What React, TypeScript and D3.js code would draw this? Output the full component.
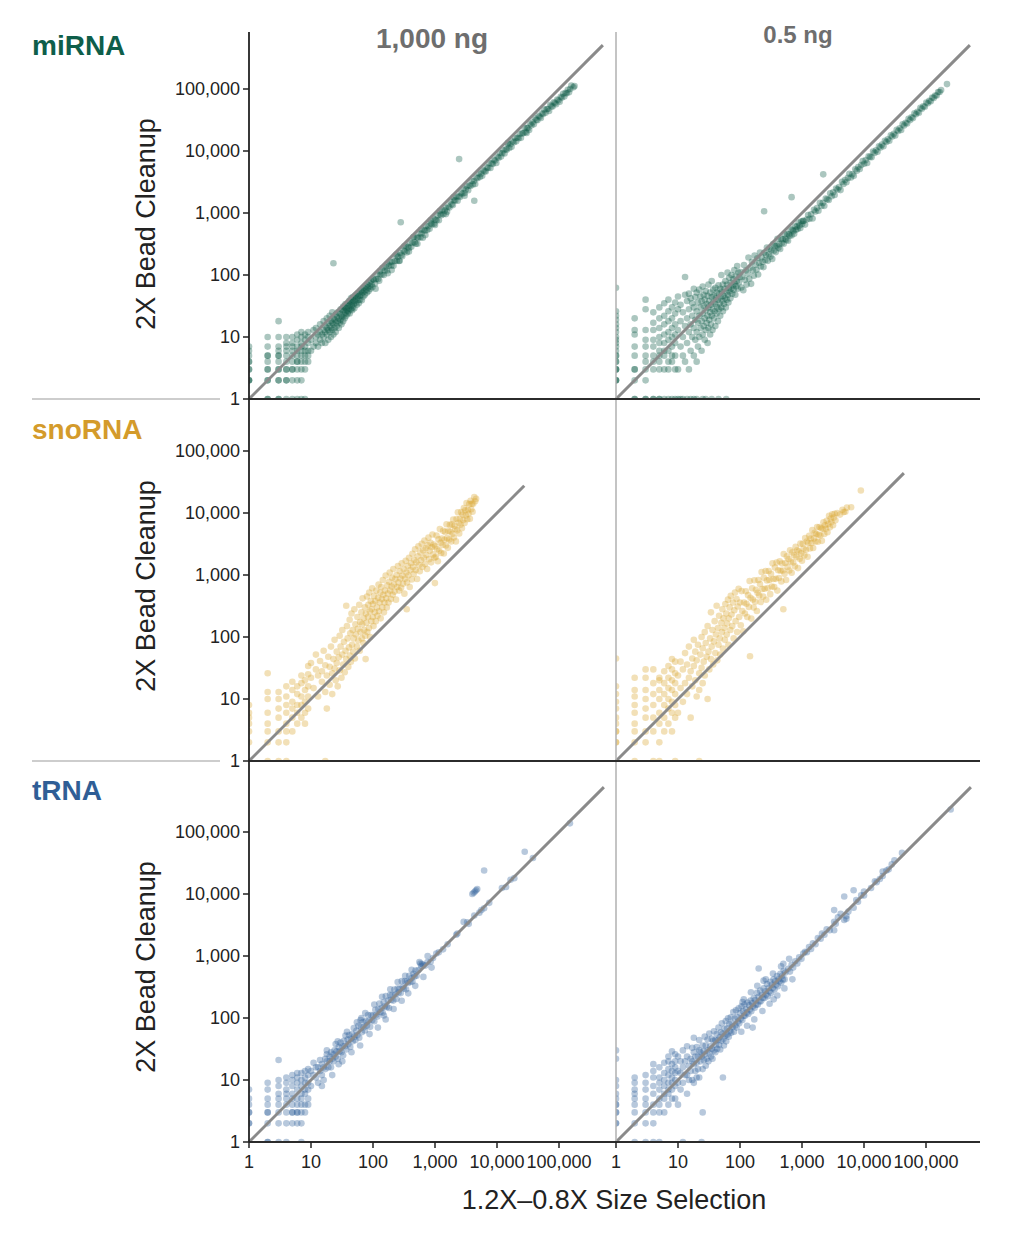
import React from "react";
import * as d3 from "d3";

// ---- data ----
// *_grid: low integer counts, [x, y1, y2, ...]; *_scatter: [x, y] pairs
// x = 1.2X-0.8X Size Selection count, y = 2X Bead Cleanup count

const miRNA_1000ng_grid = [
  [1, 1, 2, 2, 2, 3, 3, 4, 4, 5, 6, 7],
  [2, 1, 1, 2, 2, 3, 3, 4, 5, 5, 7, 10],
  [3, 1, 1, 2, 2, 3, 3, 4, 5, 5, 6, 7, 10, 18],
  [4, 1, 2, 2, 3, 3, 4, 5, 6, 7, 8, 10],
  [5, 1, 2, 3, 3, 4, 5, 6, 7, 8, 10],
  [6, 1, 2, 3, 4, 4, 5, 6, 7, 9, 11],
  [7, 1, 2, 3, 4, 5, 6, 7, 8, 10, 12],
  [8, 1, 3, 4, 5, 6, 7, 9, 11],
  [9, 4, 5, 6, 8, 10, 12],
];
const miRNA_1000ng_scatter = [
  [10,6],[10,9],[11,13],[11,7],[12,8],[12,10],[12,14],[13,7],[13,11],[14,9],[14,12],[14,16],[15,8],[15,11],
  [16,10],[16,13],[16,18],[17,8],[17,12],[17,15],[18,11],[18,14],[18,20],[19,9],[19,13],[19,17],[20,12],
  [20,15],[20,22],[21,10],[21,14],[21,18],[22,13],[22,17],[22,25],[23,11],[23,16],[23,20],[23,155],[24,14],
  [24,19],[25,12],[25,17],[25,23],[26,15],[26,21],[27,18],[27,25],[28,14],[28,20],[29,17],[29,24],[30,19],
  [30,28],[31,16],[31,22],[32,21],[32,27],[33,18],[33,31],[34,23],[34,27],[35,20],[35,30],[36,25],[36,34],
  [37,22],[37,29],[38,27],[39,31],[39,24],[40,26],[40,35],[41,29],[41,38],[42,24],[42,33],[43,37],[44,28],
  [44,42],[45,32],[46,36],[46,27],[47,30],[47,44],[48,39],[49,34],[50,44],[50,29],[51,38],[52,47],[53,36],
  [54,42],[55,33],[56,50],[57,45],[58,40],[59,35],[60,52],[61,46],[62,40],[64,55],[65,48],[66,39],[67,58],
  [68,52],[70,45],[71,62],[73,55],[74,48],[76,66],[78,58],[80,52],[81,70],[83,63],[85,55],[87,76],[89,66],
  [91,60],[93,80],[95,70],[98,64],[100,86],
  [103,84],[108,73],[110,60],[112,86],[117,103],[121,86],[126,81],[130,115],[131,103],[138,101],[142,129],
  [149,100],[155,118],[160,134],[168,118],[170,150],[173,107],[181,141],[190,163],[197,142],[200,120],
  [205,164],[214,141],[224,168],[231,206],[240,215],[242,169],[253,197],[262,168],[270,170],[275,226],
  [280,710],[287,210],[296,201],[310,248],[320,290],[324,240],[338,294],[350,231],[366,282],[380,240],
  [381,271],[399,331],[415,286],[433,329],[450,410],[452,407],[470,338],[491,319],[512,404],[520,320],
  [534,395],[560,470],[582,407],[600,540],[607,467],[635,400],[662,536],[690,518],[700,440],[722,621],
  [751,533],[785,612],[818,556],[850,760],[856,685],[892,660],[932,820],[970,669],[1000,640],[1015,782],
  [1060,763],[1105,917],[1155,762],[1200,1080],[1205,952],[1260,920],[1315,1118],[1372,960],[1435,1091],
  [1497,1213],[1500,960],[1565,1049],[1633,1274],[1706,1228],[1782,1533],[1862,1378],[1945,1342],
  [2000,1800],[2031,1604],[2122,1592],[2216,1839],[2315,1574],[2418,1862],[2450,7400],[2526,1819],
  [2638,2110],[2756,2039],[2878,2504],[3000,1900],[3006,2104],[3140,2386],[3280,2690],[3426,2330],
  [3578,2791],[3738,2729],[3904,3279],[4078,2895],[4259,3279],[4300,1580],[4449,2936],[4647,3718],
  [4854,3641],[5070,4360],[5296,3813],[5532,4315],[5778,3987],[6035,4949],[6304,4728],[6585,4675],
  [6878,5434],[7184,5316],[7504,6378],[7838,5330],[8187,6304],[8552,6157],[8933,7236],[9331,6998],
  [9746,6432],[10180,8042],[10634,7763],[11107,9330],[11602,8121],[12118,9210],[12658,10253],
  [13221,9122],[13810,10634],[14425,10530],[15000,13500],[15067,12958],[15738,11174],[16439,12822],
  [17170,11676],[17935,14348],[18733,13862],[19567,16241],[20438,14307],[21348,16438],[22298,16055],
  [23291,18866],[24328,16300],[25411,19312],[26542,19376],[27724,23565],[28958,20271],[30000,19500],
  [30247,23593],[31594,23380],[33000,21780],[34470,27576],[36004,25923],[37607,28957],[39281,27104],
  [41030,33645],[42857,31714],[44764,31335],[46757,36938],[48839,35652],[51013,34179],[53284,40496],
  [55656,39516],[58134,46507],[60722,41291],[63425,47569],[66249,47699],[69198,44287],[72279,55655],
  [75496,52847],[78857,52046],[82368,60952],[86035,59364],[89865,56615],[93865,67583],[98044,65689],
  [102408,62469],[106967,74877],[111729,72624],[116703,84026],[121898,75577],[127325,86581],
  [132993,85116],[138913,97239],[145097,88509],[151556,100027],[158303,113978],[171153,107000],
  [177898,112000],
];

const miRNA_05ng_grid = [
  [1, 1, 2, 2, 2, 3, 3, 3, 4, 4, 5, 5, 6, 7, 8, 9, 10, 12, 14, 16, 19, 22, 26, 62],
  [2, 1, 1, 2, 3, 3, 5, 7, 11, 13, 20],
  [3, 1, 1, 2, 3, 4, 5, 7, 9, 13, 28, 40],
  [4, 1, 1, 3, 4, 5, 7, 9, 13, 17, 25],
  [5, 1, 1, 3, 4, 5, 6, 8, 10, 14, 20, 30],
  [6, 1, 3, 5, 6, 8, 11, 16, 22, 35],
  [7, 1, 3, 4, 6, 9, 12, 18, 26, 40],
  [8, 1, 4, 5, 7, 10, 14, 20, 30],
  [9, 1, 3, 5, 8, 11, 16, 24, 36],
];
const miRNA_05ng_scatter = [
  [10,1],[11,1],[12,1],[14,1],[16,1],[18,1],[20,1],[25,1],[28,1],[35,1],[45,1],[60,1],
  [10,3],[10,13],[10,28],[10,45],[11,7],[11,18],[11,33],[12,5],[12,10],[12,25],[13,4],[13,15],[13,48],
  [13,93],[14,8],[14,20],[14,38],[15,3],[15,12],[15,28],[15,50],[16,6],[16,16],[16,42],[17,10],[17,22],
  [17,35],[18,5],[18,14],[18,30],[18,60],[19,9],[19,19],[19,44],[20,4],[20,12],[20,26],[20,52],[21,7],
  [21,17],[21,36],[22,10],[22,22],[22,58],[23,14],[23,30],[23,45],[24,6],[24,18],[24,38],[25,11],[25,24],
  [25,65],[26,15],[26,32],[26,48],[27,9],[27,20],[27,40],[28,13],[28,27],[28,55],[29,17],[29,34],[30,8],
  [30,22],[30,46],[31,14],[31,30],[31,70],[32,19],[32,38],[33,11],[33,25],[33,52],[34,16],[34,33],[35,22],
  [35,44],[35,80],[36,13],[36,28],[37,36],[37,58],[38,20],[38,46],[39,26],[40,15],[40,34],[40,62],[41,42],
  [42,24],[42,52],[43,30],[44,18],[44,40],[45,68],[46,28],[46,50],[47,35],[48,22],[48,60],[49,44],[50,30],
  [50,100],[51,54],[52,38],[53,26],[53,70],[54,46],[55,34],[56,60],[57,42],[58,80],[59,30],[60,52],[61,40],
  [62,70],[63,110],[64,48],[65,36],[66,62],[67,90],[68,54],[70,42],[71,75],[72,60],[73,100],[75,50],[76,68],
  [78,85],[79,58],[81,120],[82,72],[84,48],[85,95],[87,66],[89,80],[90,140],[92,60],[94,110],[96,76],
  [98,92],
  [102,112],[105,63],[109,93],[113,57],[116,145],[120,84],[124,118],[128,70],[133,106],[137,192],[141,87],
  [146,131],[151,72],[156,164],[161,119],[167,97],[172,206],[178,146],[184,121],[190,186],[196,102],
  [203,156],[210,231],[217,137],[224,193],[231,164],[239,134],[245,1070],[247,230],[255,173],[263,210],
  [272,277],[281,169],[290,215],[300,264],[310,198],[320,250],[331,182],[342,315],[353,247],[365,296],
  [377,234],[389,296],[402,382],[416,275],[429,313],[444,262],[458,385],[474,327],[489,377],[506,319],
  [522,459],[540,383],[558,368],[576,461],[595,357],[615,455],[635,432],[656,544],[678,434],[680,1800],
  [700,532],[724,507],[748,464],[772,610],[798,535],[825,602],[852,554],[880,704],[910,628],[940,573],
  [971,728],[1003,662],[1036,746],
  [1060,742],[1120,650],[1190,785],[1255,929],[1320,805],[1400,952],[1480,814],[1560,1123],[1650,1056],
  [1745,1204],[1840,1086],[1945,1459],[2055,1295],[2170,1454],[2200,4200],[2290,1305],[2420,1718],
  [2555,1661],[2700,1620],[2850,2081],[3010,1866],[3180,2162],[3360,1949],[3550,2485],[3750,2400],
  [3960,2614],[4180,2341],[4420,3182],[4670,2942],[4930,3402],[5210,3126],[5500,3685],[5810,4299],
  [6140,3745],[6490,4219],[6850,3973],[7240,5068],[7650,4820],[8080,5494],[8540,5124],[9020,5953],
  [9530,6862],[10070,6243],[10640,7129],[11240,6407],[11870,8190],[12540,8026],[13250,7950],
  [14000,9800],[14790,9318],[15620,10309],[16500,9735],[17430,11852],[18420,11420],[19460,12649],
  [20560,11925],[21720,14552],[22950,14000],[24240,15514],[25610,14598],[27060,17860],[28590,17154],
  [30200,19026],[31900,17864],[33710,21912],[35610,21010],[37620,23324],[39740,21857],[41990,26874],
  [44360,25729],[46870,28591],[49520,27731],[52310,32955],[55270,31504],[58390,35034],[61690,33930],
  [65170,40405],[68850,39245],[72740,42917],[76850,41499],[81190,49526],[85780,48037],[90620,52560],
  [95740,51700],[101150,60690],[106860,58773],[112900,64353],[119280,63218],[126020,73092],
  [133140,71896],[140660,78770],[148610,78763],[157000,89490],[165870,89570],[175240,96382],
  [218000,120000],
];

const snoRNA_1000ng_grid = [
  [1, 2, 3, 4, 5, 6, 8],
  [2, 1, 2, 3, 4, 6, 10, 13, 26],
  [3, 1, 2, 3, 5, 7, 10, 13],
  [4, 1, 2, 3, 4, 6, 8, 11, 16],
  [5, 3, 5, 7, 9, 14, 19],
  [6, 4, 6, 8, 12, 16],
  [7, 5, 8, 11, 18, 24],
  [8, 4, 6, 9, 14, 20],
  [9, 7, 11, 16, 25, 34],
];
const snoRNA_1000ng_scatter = [
  [17,1],
  [10,22],[10,38],[11,15],[12,30],[12,52],[13,11],[13,24],[14,41],[15,19],[15,28],[16,60],[17,13],[17,35],
  [18,7],[18,24],[19,48],[20,17],[20,33],[21,70],[22,26],[22,12],[23,44],[24,90],[24,31],[25,20],[26,58],
  [26,38],[27,16],[28,47],[29,105],[29,29],[30,70],[31,22],[32,52],[32,130],[33,36],[34,84],[35,27],[36,60],
  [37,320],[37,44],[38,150],[39,95],[40,33],[41,68],[42,190],[42,50],[43,115],[44,40],[45,240],[46,75],
  [47,130],[48,58],[49,95],[50,280],[51,45],[52,160],[53,110],[55,70],[56,210],[57,135],[58,88],[60,330],
  [61,60],[62,175],[63,120],[65,250],[66,95],[67,160],[68,420],[70,80],[71,200],[72,130],[74,300],[75,105],
  [76,44],[77,240],[78,170],[80,450],[81,120],[83,210],[84,330],[86,140],[87,520],[89,260],[90,100],
  [92,380],[94,180],[95,280],[97,610],[99,210],[100,340],[102,150],[104,460],[107,250],[109,380],[111,180],
  [113,560],[116,300],[118,220],[121,430],[123,700],[125,260],[128,360],[131,520],[133,200],[136,640],
  [139,410],[141,300],[144,830],[147,480],[150,250],[153,360],[156,560],[160,980],[163,420],[167,300],
  [170,680],[174,500],[178,360],[182,780],[186,1100],[190,560],[194,410],[199,650],[203,900],[208,480],
  [213,1250],[218,700],[223,540],[229,860],[235,400],[240,1000],[246,640],[252,1400],[258,760],[264,560],
  [270,1150],[277,880],[284,620],[291,1550],[298,980],[305,720],[313,1250],[321,500],[329,870],[337,1700],
  [345,1100],[350,280],[354,760],[363,1400],[372,980],[381,1900],[391,640],[401,1200],[411,1550],
  [421,850],[432,2200],[443,1350],[454,1050],[465,1750],[477,2600],[489,1200],[501,1600],[514,860],
  [527,2000],[540,2900],[554,1450],[568,1150],[582,2300],[597,1750],[612,3200],[627,1350],[643,2500],
  [659,1900],[676,3600],[693,1500],[710,2700],[728,2100],[746,1250],[765,3000],[784,4000],[804,1800],
  [824,2450],[845,3300],[866,1600],[888,2800],[910,4500],[933,2150],[957,3100],[981,1900],[996,740],
  [1006,2900],[1031,1960],[1057,4330],[1084,2600],[1111,1670],[1139,3760],[1168,2450],[1197,5500],
  [1227,3310],[1258,2260],[1290,3870],[1322,3040],[1355,5150],[1389,2220],[1424,3700],[1460,4960],
  [1497,2990],[1535,6600],[1573,3930],[1613,2740],[1653,5120],[1695,3730],[1737,6430],[1781,4990],
  [1826,3470],[1872,6550],[1919,4610],[1967,7870],[2016,4030],[2067,6200],[2119,5510],[2172,3480],
  [2226,8010],[2282,5250],[2340,10300],[2398,6950],[2459,4670],[2520,8060],[2583,6460],[2648,10330],
  [2715,5700],[2783,9460],[2853,7700],[2924,11990],[2997,6890],[3072,11060],[3149,9130],[3228,14530],
  [3309,7940],[3392,11190],[3477,9740],[3564,13900],[3653,8040],[3744,15720],[3838,11510],[3934,14160],
  [4032,10480],[4133,14050],[4300,18000],[4450,15500],[4600,17000],
];

const snoRNA_05ng_grid = [
  [1, 2, 2, 3, 3, 4, 5, 7, 9, 12, 16, 45],
  [2, 1, 2, 3, 4, 6, 8, 11, 14, 22],
  [3, 2, 3, 5, 7, 10, 14, 22, 30],
  [4, 1, 3, 5, 8, 12, 18, 30],
  [5, 1, 2, 4, 6, 10, 14, 20, 22],
  [6, 3, 5, 8, 12, 18, 28],
  [7, 4, 7, 10, 15, 22, 34],
  [8, 3, 6, 9, 14, 20, 30, 44],
  [9, 1, 5, 8, 12, 18, 26, 40],
];
const snoRNA_05ng_scatter = [
  [22,1],
  [10,6],[10,24],[11,15],[11,40],[12,9],[12,30],[13,18],[13,55],[14,12],[14,36],[15,22],[15,70],[16,5],
  [16,28],[17,45],[17,16],[18,90],[18,34],[19,20],[19,58],[20,11],[20,42],[21,75],[22,26],[22,14],[23,52],
  [24,100],[24,32],[25,18],[25,66],[26,40],[27,120],[27,24],[28,80],[29,48],[30,10],[30,150],[31,58],
  [32,30],[33,95],[34,250],[34,44],[35,70],[36,130],[37,36],[38,85],[39,180],[40,55],[41,110],[42,320],
  [43,42],[44,140],[45,75],[46,220],[47,95],[48,52],[50,170],[51,120],[52,280],[53,65],[54,200],[56,140],
  [57,90],[58,340],[60,240],[61,110],[62,165],[64,400],[65,75],[66,200],[68,300],[70,130],[71,460],
  [73,230],[75,150],[77,360],[79,95],[81,270],[83,520],[85,180],[88,410],[90,120],[92,310],[95,600],
  [97,210],
  [100,360],[103,155],[106,550],[109,262],[113,124],[116,360],[120,240],[124,546],[127,343],[131,210],
  [135,473],[139,306],[143,800],[145,49],[148,429],[152,198],[157,612],[161,403],[166,299],[171,821],
  [176,370],[181,579],[187,262],[192,518],[198,832],[204,469],[210,714],[216,367],[223,1115],[229,595],
  [236,448],[243,899],[250,600],[258,1161],[265,398],[273,819],[281,618],[290,1160],[298,834],[307,491],
  [316,1043],[326,652],[335,1541],[345,863],[356,641],[366,1318],[377,867],[389,1595],[400,560],
  [412,1195],[425,893],[437,1661],[450,1170],[464,789],[478,1530],[492,1181],[500,280],[507,2180],
  [522,1044],[538,1560],[554,831],[570,1995],[587,1350],[605,1815],[623,1184],[642,2504],[661,1653],
  [681,1090],[701,2313],[722,1588],[744,2083],[766,1379],[789,2840],[813,1951],[837,2511],[862,1293],
  [888,2398],[915,1830],[942,3203],[970,2231],[1000,1700],[1030,3193],[1061,2653],[1093,2077],
  [1125,3938],[1159,2550],[1194,3463],[1230,1968],[1267,3294],[1305,4307],[1344,2688],[1384,3875],
  [1426,3280],[1468,5285],[1512,2722],[1558,3895],[1604,4812],[1652,3469],[1702,4595],[1753,5960],
  [1806,3431],[1860,4464],[1916,5940],[1973,4341],[2032,5690],[2093,3558],[2156,5606],[2221,7107],
  [2287,4574],[2356,6361],[2427,5582],[2499,7497],[2574,4891],[2652,6630],[2731,9012],[2813,5907],
  [2897,8112],[2984,7162],[3074,9529],[3166,6332],[3261,8479],[3359,9741],[3460,7612],[3700,9990],
  [4100,9430],[4500,11250],[4700,10340],[5000,10500],[5300,12190],[6200,12400],[8900,23000],
];

const tRNA_1000ng_grid = [
  [1, 2, 2, 3, 3, 4, 5, 7],
  [2, 1, 1, 2, 3, 3, 4, 5, 7, 9],
  [3, 1, 2, 3, 4, 5, 6, 8, 10, 21],
  [4, 1, 2, 3, 4, 5, 6, 7, 9, 11],
  [5, 2, 3, 3, 4, 5, 6, 8, 10, 12],
  [6, 2, 3, 3, 4, 5, 7, 9, 11, 13],
  [7, 1, 2, 3, 4, 5, 6, 8, 10, 13],
  [8, 3, 4, 6, 7, 9, 11, 14],
  [9, 4, 5, 7, 9, 12, 15],
];
const tRNA_1000ng_scatter = [
  [10,14],[10,8],[11,12],[11,19],[12,11],[12,16],[13,9],[13,16],[14,14],[14,21],[15,12],[15,18],[15,8],
  [16,16],[16,10],[17,22],[17,15],[18,20],[18,26],[18,30],[19,16],[20,24],[20,20],[21,16],[21,28],[22,22],
  [22,12],[23,26],[23,20],[24,30],[25,24],[25,38],[26,29],[27,22],[27,42],[28,34],[28,18],[29,29],[30,40],
  [31,28],[32,35],[32,20],[33,25],[34,43],[35,35],[36,52],[37,31],[38,60],[39,45],[40,38],[41,53],[43,34],
  [44,46],[45,28],[46,55],[47,42],[49,69],[50,50],[52,44],[54,62],[55,85],[56,53],[58,75],[60,48],[62,36],
  [63,93],[64,70],[65,100],[66,59],[69,86],[71,71],[74,63],[75,120],[77,89],[80,76],[83,112],[86,90],
  [88,55],[90,72],[93,112],[97,92],[100,110],[105,89],[105,165],[109,136],[113,113],[118,106],[120,70],
  [122,140],[127,171],[132,125],[138,145],[140,220],[143,122],[149,179],[150,110],[155,155],[160,95],
  [161,225],[168,151],[174,191],[181,145],[189,236],[190,290],[196,196],[204,235],[212,191],[215,140],
  [221,287],[230,242],[239,203],[249,299],[250,380],[259,259],[269,296],[280,252],[290,190],[291,393],
  [303,318],[315,299],[328,394],[330,480],[341,290],[355,391],[369,369],[370,250],[384,480],[399,379],
  [415,436],[420,600],[432,389],[449,516],[467,467],[480,330],[486,583],[505,480],[540,594],[560,800],
  [580,754],[600,690],[620,744],[650,460],[650,715],[700,700],[760,1000],[760,798],[850,808],[880,650],
  [930,930],[1050,1100],[1150,1150],[1350,1280],[1600,1550],[2200,2200],[2300,2300],
  [2900,3550],[3300,3500],[3500,3300],[4000,10000],[4200,10500],[4300,4500],[4400,11000],[4600,11500],
  [4800,12000],[5200,5000],[5600,5500],[6200,5900],[6200,24000],[7500,7200],[12000,12500],[14000,13000],
  [16500,17000],[19000,18000],[28000,48000],[38000,38000],[150000,138000],
];

const tRNA_05ng_grid = [
  [1, 2, 2, 3, 3, 4, 4, 5, 6, 8, 10, 22, 30],
  [2, 1, 2, 3, 4, 5, 6, 7, 9, 11],
  [3, 1, 2, 3, 4, 5, 7, 9, 12],
  [4, 1, 2, 3, 4, 6, 8, 11, 14, 18],
  [5, 1, 3, 4, 5, 7, 9, 11, 16],
  [6, 3, 5, 6, 8, 10, 13, 19],
  [7, 4, 6, 7, 9, 12, 15, 20, 24],
  [8, 5, 7, 9, 11, 14, 18, 29],
  [9, 5, 8, 10, 13, 16, 20, 26],
];
const tRNA_05ng_scatter = [
  [12,1],[24,1],
  [10,4],[10,9],[10,14],[10,24],[11,7],[11,13],[11,20],[12,9],[12,16],[12,30],[13,12],[13,20],[14,6],
  [14,12],[14,24],[14,35],[15,17],[15,10],[16,22],[16,14],[17,10],[17,20],[17,33],[18,9],[18,18],[18,28],
  [18,48],[19,14],[19,24],[20,11],[20,19],[20,34],[21,24],[21,15],[22,11],[22,30],[22,44],[23,20],[23,28],
  [24,24],[25,3],[25,15],[25,36],[26,21],[26,29],[27,26],[27,50],[28,17],[28,36],[29,22],[30,30],[30,45],
  [31,20],[32,27],[32,56],[33,35],[34,24],[35,46],[35,32],[36,22],[37,43],[38,30],[38,61],[40,28],[40,44],
  [41,37],[42,55],[43,32],[44,44],[45,70],[46,37],[47,49],[48,31],[49,59],[50,43],[51,82],[53,11],[53,56],
  [54,46],[55,36],[56,67],[58,52],[59,89],[60,42],[62,68],[63,54],[64,99],[66,50],[67,80],[69,62],[71,103],
  [72,58],[74,81],[76,72],[78,125],[80,60],[82,98],[84,76],[86,133],[88,70],[90,104],[93,88],[95,143],
  [97,82],[100,120],[103,98],[105,60],[106,154],[109,93],[110,180],[112,129],[115,200],[115,109],
  [118,165],[121,109],[125,138],[128,122],[130,75],[132,178],[136,116],[140,161],[144,137],[148,192],
  [150,260],[152,129],[157,173],[160,70],[162,154],[167,209],[170,95],[172,146],[177,195],[182,164],
  [188,254],[190,330],[194,165],[200,630],[200,220],[206,185],[212,276],[219,186],[226,237],[230,130],
  [233,210],[240,300],[240,400],[248,211],[256,269],[260,420],[264,238],[272,354],[281,225],[290,305],
  [299,269],[300,170],[308,385],[318,254],[328,344],[338,304],[340,520],[349,419],[350,200],[360,288],
  [371,390],[383,345],[395,474],[400,230],[408,326],[420,420],[434,391],[448,515],[460,680],[462,370],
  [477,477],[492,418],[500,750],[508,584],[520,300],[524,419],[540,540],
  [600,620],[620,900],[640,560],[680,720],[700,420],[720,650],[780,820],[840,760],[900,950],[980,900],
  [1050,1100],[1120,1170],[1200,1150],[1300,1400],[1400,1300],[1500,1600],[1650,1550],[1800,1950],
  [2000,1900],[2100,2300],[2300,2200],[2500,2700],[2800,2600],[3300,2600],[3300,3550],[3300,5500],
  [3500,3300],[3800,4200],[4200,4800],[4800,3800],[4800,9100],[5200,4000],[5200,4400],[5600,5200],
  [6800,6000],[6800,11500],[7500,8000],[8000,7500],[9000,9500],[10000,9500],[10000,11000],[13000,12500],
  [15000,16000],[16000,15500],[18000,17500],[20000,19500],[20000,23000],[23000,24000],[25000,25000],
  [28000,30000],[31000,35000],[41000,46000],[250000,230000],
];

// where the y = x reference line stops, per panel [1,000 ng, 0.5 ng]
const diagonalEnds = [
  [510000, 510000],
  [27500, 44000],
  [530000, 530000],
];

const rowNames = ["miRNA", "snoRNA", "tRNA"];
const rowColors = ["#0d5c47", "#d9a530", "#30609a"];
const labelColors = ["#0e5e4a", "#d49b2b", "#2f5e96"];
const colTitles = ["1,000 ng", "0.5 ng"];
const tickValues = [1, 10, 100, 1000, 10000, 100000];

const expand = (groups: number[][]) =>
  groups.flatMap((g) => g.slice(1).map((y) => [g[0], y]));

const panelData = [
  [
    [...expand(miRNA_1000ng_grid), ...miRNA_1000ng_scatter],
    [...expand(miRNA_05ng_grid), ...miRNA_05ng_scatter],
  ],
  [
    [...expand(snoRNA_1000ng_grid), ...snoRNA_1000ng_scatter],
    [...expand(snoRNA_05ng_grid), ...snoRNA_05ng_scatter],
  ],
  [
    [...expand(tRNA_1000ng_grid), ...tRNA_1000ng_scatter],
    [...expand(tRNA_05ng_grid), ...tRNA_05ng_scatter],
  ],
];

// ---- layout ----
const W = 1013;
const H = 1238;
const DEC = 62; // px per decade
const COL_X = [249, 616];
const COL_END = [616, 980];
const ROW_BASE = [399, 761, 1142];
const ROW_TOP = [32, 399, 761];
const LABEL_Y = [55, 439, 800];
const FONT = "'Liberation Sans', Arial, Helvetica, sans-serif";
const fmt = d3.format(",");

export default function App() {
  const xScales = COL_X.map((x0) =>
    d3.scaleLog().domain([1, 1e5]).range([x0, x0 + 5 * DEC])
  );
  const yScales = ROW_BASE.map((b) =>
    d3.scaleLog().domain([1, 1e5]).range([b, b - 5 * DEC])
  );

  return (
    <svg
      width={W}
      height={H}
      style={{ position: "absolute", left: 0, top: 0, background: "#fff" }}
      fontFamily={FONT}
    >
      <defs>
        {ROW_BASE.map((b, r) =>
          COL_X.map((x0, c) => (
            <clipPath id={`clip-${r}-${c}`} key={`${r}-${c}`}>
              <rect x={x0} y={ROW_TOP[r]} width={COL_END[c] - x0} height={b - ROW_TOP[r]} />
            </clipPath>
          ))
        )}
      </defs>

      {/* points */}
      {panelData.map((row, r) =>
        row.map((pts, c) => (
          <g key={`p-${r}-${c}`} clipPath={`url(#clip-${r}-${c})`}>
            {pts.map(([x, y], i) => (
              <circle
                key={i}
                cx={xScales[c](x)}
                cy={yScales[r](y)}
                r={3.3}
                fill={rowColors[r]}
                fillOpacity={0.35}
              />
            ))}
          </g>
        ))
      )}

      {/* y = x lines */}
      {diagonalEnds.map((ends, r) =>
        ends.map((e, c) => (
          <line
            key={`d-${r}-${c}`}
            x1={xScales[c](1)}
            y1={yScales[r](1)}
            x2={xScales[c](e)}
            y2={yScales[r](e)}
            stroke="#8a8a8a"
            strokeWidth={3}
          />
        ))
      )}

      {/* right column divider */}
      <line x1={616} x2={616} y1={32} y2={1142} stroke="#b0b0b0" strokeWidth={1.5} />

      {/* row baselines and left separators */}
      {ROW_BASE.map((b, r) => (
        <g key={`b-${r}`}>
          <line x1={249} x2={980} y1={b} y2={b} stroke="#2b2b2b" strokeWidth={1.8} />
          {r < 2 && (
            <line x1={32} x2={220} y1={b} y2={b} stroke="#bdbdbd" strokeWidth={1.5} />
          )}
        </g>
      ))}

      {/* left y axis */}
      <line x1={249} x2={249} y1={32} y2={1142} stroke="#222" strokeWidth={1.8} />
      {ROW_BASE.map((b, r) => (
        <g key={`ya-${r}`}>
          {tickValues.map((t) => (
            <g key={t} transform={`translate(249,${yScales[r](t)})`}>
              <line x1={-6} x2={0} stroke="#222" strokeWidth={1.5} />
              <text x={-9} dy="0.35em" textAnchor="end" fontSize={18} fill="#222">
                {fmt(t)}
              </text>
            </g>
          ))}
          <text
            transform={`translate(155,${b - 175}) rotate(-90)`}
            textAnchor="middle"
            fontSize={27}
            fill="#222"
          >
            2X Bead Cleanup
          </text>
          <text x={32} y={LABEL_Y[r]} fontSize={28} fontWeight="bold" fill={labelColors[r]}>
            {rowNames[r]}
          </text>
        </g>
      ))}

      {/* bottom x axes */}
      {xScales.map((xs, c) => (
        <g key={`xa-${c}`}>
          {tickValues.map((t) => (
            <g key={t} transform={`translate(${xs(t)},1142)`}>
              <line y1={0} y2={6} stroke="#222" strokeWidth={1.5} />
              <text y={26} textAnchor="middle" fontSize={18} fill="#222">
                {fmt(t)}
              </text>
            </g>
          ))}
        </g>
      ))}
      <text x={614} y={1209} textAnchor="middle" fontSize={27} fill="#222">
        1.2X–0.8X Size Selection
      </text>

      {/* column titles */}
      <text x={432} y={48} textAnchor="middle" fontSize={28} fontWeight="bold" fill="#6e6e6e">
        {colTitles[0]}
      </text>
      <text x={798} y={43} textAnchor="middle" fontSize={24} fontWeight="bold" fill="#6e6e6e">
        {colTitles[1]}
      </text>
    </svg>
  );
}
